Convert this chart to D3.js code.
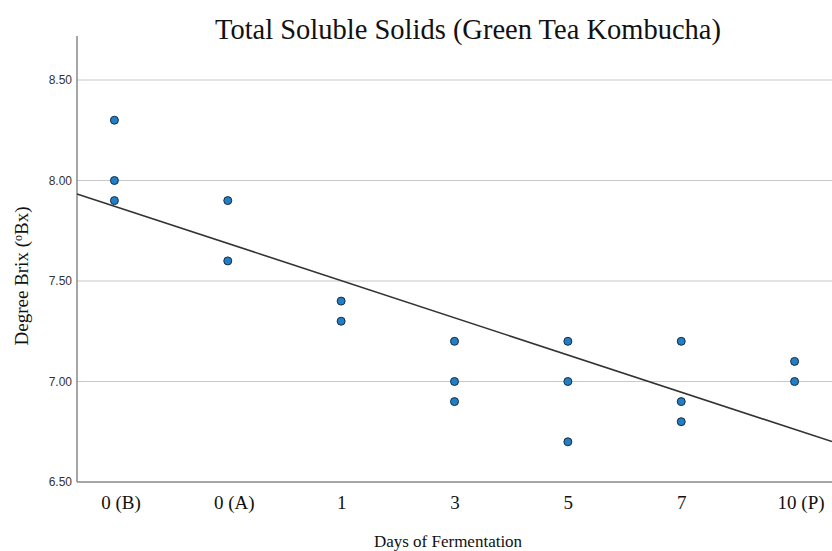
<!DOCTYPE html>
<html>
<head>
<meta charset="utf-8">
<script src="https://cdn.jsdelivr.net/npm/d3@7"></script>
<style>
  body { margin: 0; background: #fff; }
</style>
</head>
<body>
<svg id="fig" width="832" height="551"></svg>
<script>
// data
var days = ["0 (B)", "0 (A)", "1", "3", "5", "7", "10 (P)"];
var brixB  = [8.3, 8.0, 7.9];
var brixA  = [7.9, 7.6];
var brix1  = [7.4, 7.3];
var brix3  = [7.2, 7.0, 6.9];
var brix5  = [7.2, 7.0, 6.7];
var brix7  = [7.2, 6.9, 6.8];
var brix10 = [7.1, 7.0];
var yTicks = [6.5, 7.0, 7.5, 8.0, 8.5];
// fit line (per category step)
var fitIntercept = 7.872;
var fitSlope = -0.185;

var serif = "'Liberation Serif', 'Times New Roman', serif";
var sans = "'Liberation Sans', Arial, sans-serif";

var groups = [brixB, brixA, brix1, brix3, brix5, brix7, brix10];
var pts = [];
groups.forEach(function (g, i) {
    g.forEach(function (v) { pts.push({ i: i, day: days[i], v: v }); });
});

var svg = d3.select("#fig");
const margin = { left: 77, top: 36, right: 0, bottom: 69 };
const width = +svg.attr("width");

var xSc = d3.scalePoint().domain(days)
            .range([margin.left, width - margin.right]).padding(0.33);
var ySc = d3.scaleLinear().domain([6.5, 8.5]).range([482, 80]);

// grid
svg.append("g").selectAll("line")
   .data(yTicks.slice(1))
   .enter().append("line")
   .attr("x1", margin.left).attr("x2", width)
   .attr("y1", d => ySc(d)).attr("y2", d => ySc(d))
   .attr("stroke", "#c8c8c8").attr("stroke-width", 1.2);

// y axis
var yg = svg.append("g").attr("transform", `translate(${margin.left},0)`);
yg.call(d3.axisLeft(ySc).tickValues(yTicks).tickFormat(d3.format(".2f")).tickSize(0).tickPadding(5));
yg.select(".domain").remove();
yg.selectAll("text").attr("font-family", sans)
  .attr("font-size", 12).attr("fill", "#333");
svg.append("line")
   .attr("x1", margin.left).attr("x2", margin.left)
   .attr("y1", margin.top).attr("y2", ySc(6.5))
   .attr("stroke", "#888").attr("stroke-width", 1.5);

// x axis
var xg = svg.append("g").attr("transform", `translate(0,${ySc(6.5)})`);
xg.call(d3.axisBottom(xSc).tickSize(0).tickPadding(14));
xg.select(".domain").remove();
xg.selectAll("text").attr("font-family", serif)
  .attr("font-size", 19).attr("fill", "#111")
  .attr("dx", d => d.indexOf("(") >= 0 ? 6 : 0);
svg.append("line")
   .attr("x1", margin.left).attr("x2", width)
   .attr("y1", ySc(6.5)).attr("y2", ySc(6.5))
   .attr("stroke", "#888").attr("stroke-width", 1.5);

// fit line across the plot width
var step = xSc.step();
var i0 = (margin.left - xSc(days[0])) / step;
var i1 = (width - xSc(days[0])) / step;
var lnMkr = d3.line()
    .x(d => xSc(days[0]) + d * step)
    .y(d => ySc(fitIntercept + fitSlope * d));
svg.append("path")
   .attr("d", lnMkr([i0, i1]))
   .attr("fill", "none").attr("stroke", "#333").attr("stroke-width", 1.6);

// points
svg.selectAll("circle")
   .data(pts).enter().append("circle")
   .attr("cx", d => xSc(d.day))
   .attr("cy", d => ySc(d.v))
   .attr("r", 4)
   .attr("fill", "#1f7fc8")
   .attr("stroke", "#1b2b3b").attr("stroke-width", 1);

// titles
svg.append("text")
   .attr("x", 468).attr("y", 39)
   .attr("text-anchor", "middle")
   .attr("font-family", serif)
   .attr("font-size", 28.5).attr("fill", "#111")
   .text("Total Soluble Solids (Green Tea Kombucha)");
svg.append("text")
   .attr("x", 448).attr("y", 547)
   .attr("text-anchor", "middle")
   .attr("font-family", serif)
   .attr("font-size", 17).attr("fill", "#111")
   .text("Days of Fermentation");
var yl = svg.append("text")
   .attr("transform", "translate(28,276) rotate(-90)")
   .attr("text-anchor", "middle")
   .attr("font-family", serif)
   .attr("font-size", 19).attr("fill", "#111");
yl.append("tspan").text("Degree Brix (");
yl.append("tspan").attr("font-size", 12).attr("dy", -6).text("o");
yl.append("tspan").attr("dy", 6).text("Bx)");
</script>
</body>
</html>
